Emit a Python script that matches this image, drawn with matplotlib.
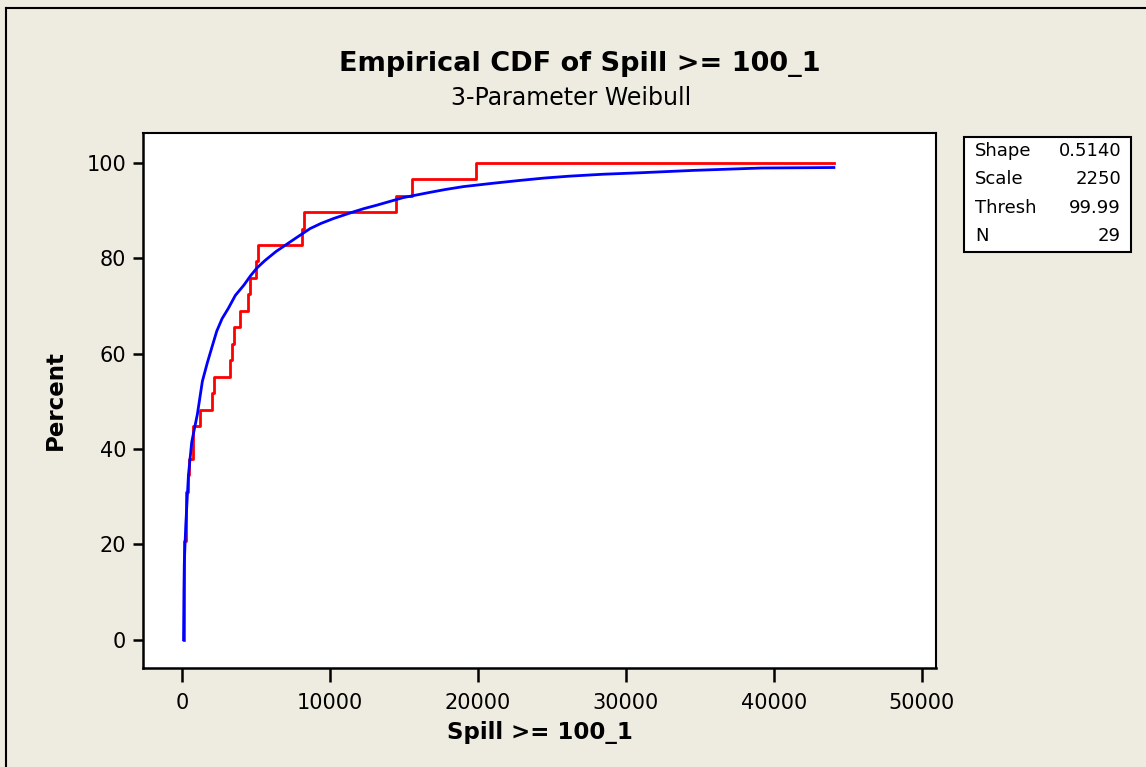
import matplotlib.pyplot as plt
from matplotlib.lines import Line2D
from matplotlib.patches import Rectangle

plt.rcParams['font.family'] = ['DejaVu Sans']

spill = [100, 100, 105, 110, 120, 140, 250, 250, 260, 385, 495, 765, 770,
         1216, 2005, 2140, 3243, 3378, 3514, 3919, 4459, 4595, 5000, 5113,
         8131, 8243, 14460, 15518, 19865]
x_end = 44050

# fitted 3-parameter Weibull curve
fit_x = [100, 125, 150, 200, 250, 430, 655, 1035, 1372, 1700, 2005, 2343,
         2700, 3130, 3600, 4190, 4600, 5045, 5600, 6350, 7635, 8650, 9400,
         10225, 11575, 12300, 13150, 14950, 16760, 17800, 19010, 21000,
         22840, 24500, 26220, 28500, 30950, 34550, 39170, 44050]
fit_pct = [0, 10, 16, 20, 24, 34.5, 41.5, 47.3, 54.2, 58.0, 61.2, 64.7,
           67.3, 69.5, 72.2, 74.4, 76.2, 77.9, 79.5, 81.4, 84.1, 86.2, 87.3,
           88.3, 89.7, 90.4, 91.1, 92.7, 93.8, 94.4, 95.0, 95.7,
           96.3, 96.8, 97.2, 97.6, 97.9, 98.4, 98.9, 99.0]

stat_names = ["Shape", "Scale", "Thresh", "N"]
stat_values = ["0.5140", "2250", "99.99", "29"]

bg = "#eeebe0"
fig = plt.figure(figsize=(11.46, 7.67), dpi=100, facecolor=bg)
ax = fig.add_axes([143/1146, 1 - 668/767, (936-143)/1146, (668-132.7)/767])

n = len(spill)
step_x = [spill[0]] + spill + [x_end]
step_y = [0] + [100 * (i + 1) / n for i in range(n)] + [100]
ax.step(step_x, step_y, where="post", color="red", lw=2)
ax.plot(fit_x, fit_pct, color="blue", lw=2)

ax.set_xlim(-2640, 50950)
ax.set_ylim(-5.9, 106.3)
ax.set_xticks([0, 10000, 20000, 30000, 40000, 50000])
ax.set_yticks([0, 20, 40, 60, 80, 100])
ax.tick_params(labelsize=15, width=1.8, length=7, color="black", pad=5)
ax.tick_params(axis="x", length=10, pad=8)
for s in ["top", "right"]:
    ax.spines[s].set_linewidth(1.5)
for s in ["left", "bottom"]:
    ax.spines[s].set_linewidth(1.8)

ax.set_xlabel("Spill >= 100_1", fontsize=16.5, fontweight="bold", labelpad=6)
ax.set_ylabel("Percent", fontsize=16.5, fontweight="bold", labelpad=14)

fig.text(580/1146, 1 - 64/767, "Empirical CDF of Spill >= 100_1",
         ha="center", va="center", fontsize=19.5, fontweight="bold")
fig.text(571/1146, 1 - 98/767, "3-Parameter Weibull",
         ha="center", va="center", fontsize=17)

# parameter box
fig.patches.append(Rectangle((964/1146, 1 - 252/767), 167/1146, 115/767,
                             transform=fig.transFigure, facecolor="white",
                             edgecolor="black", lw=1.5))
for i, (name, val) in enumerate(zip(stat_names, stat_values)):
    yy = 1 - (151 + 28.3 * i) / 767
    fig.text(975/1146, yy, name, ha="left", va="center", fontsize=13)
    fig.text(1121/1146, yy, val, ha="right", va="center", fontsize=13)

# outer frame
fig.add_artist(Line2D([6/1146, 6/1146], [0, 1 - 8/767], color="black", lw=1.5,
                      transform=fig.transFigure))
fig.add_artist(Line2D([6/1146, 1], [1 - 8/767, 1 - 8/767], color="black", lw=1.5,
                      transform=fig.transFigure))

fig.savefig("out.png", dpi=100, facecolor=bg)
